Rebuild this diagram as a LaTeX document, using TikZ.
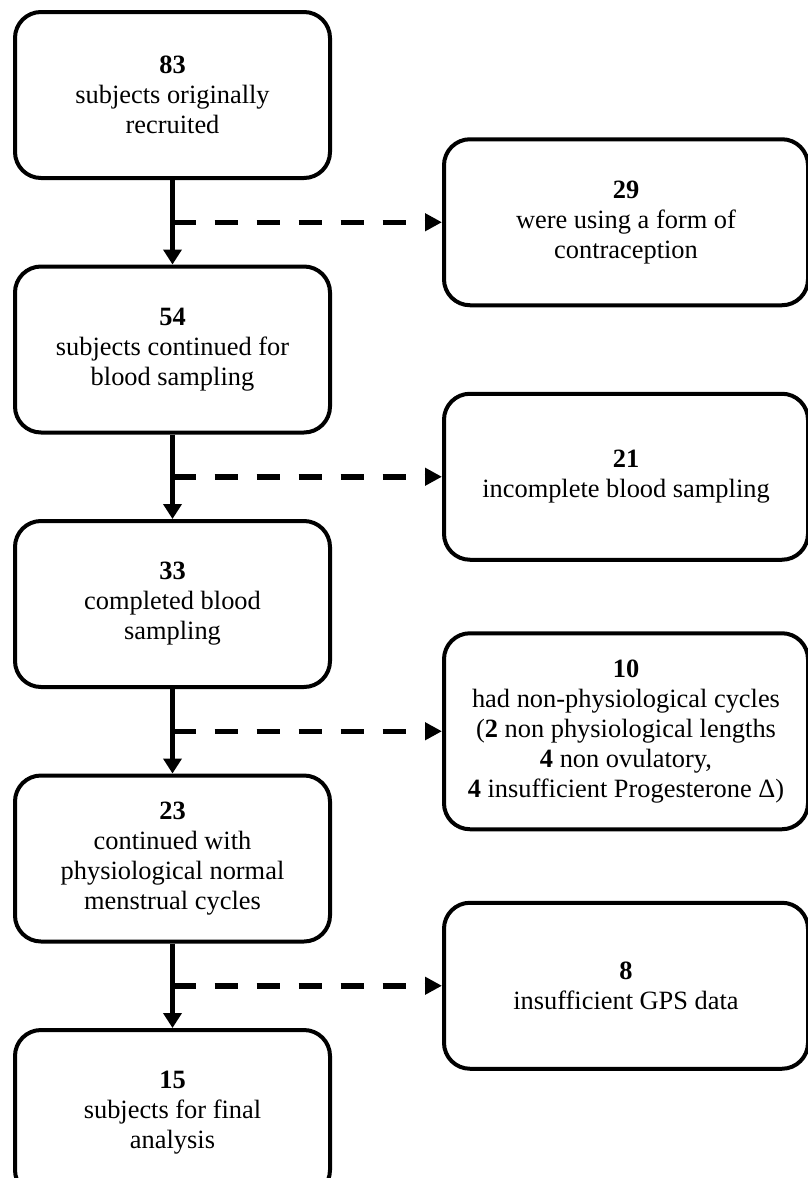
\documentclass[tikz,border=0pt]{standalone}
\usepackage{fontspec}
\setmainfont{Liberation Serif}
\usetikzlibrary{positioning, arrows.meta}

\begin{document}
\begin{tikzpicture}[
                x=1pt, y=1pt,
                node distance=84.5pt,
                every node/.style={
                        align=center,
                        font=\fontsize{26.4}{30}\selectfont
                    },
                box/.style={
                        draw,
                        line width=4pt,
                        rounded corners=26pt,
                        minimum width=315pt,
                        minimum height=166pt,
                        inner sep=0pt
                    },
                sidebox/.style={
                        box,
                        minimum width=364pt
                    },
                flow/.style={line width=5.5pt, -{Triangle[length=15pt, width=18pt]}},
                drop/.style={line width=5.5pt, dash pattern=on 23pt off 19pt, -{Triangle[length=17pt, width=17pt]}}
            ]

            \useasboundingbox (0,0) rectangle (808,-1178);

            \node[box] (recruited) at (172.5,-95) {\textbf{83}\\ subjects originally\\ recruited};
            \node[box] (blood) [below=of recruited] {\textbf{54}\\ subjects continued for\\ blood sampling};
            \node[box] (completed) [below=of blood] {\textbf{33}\\ completed blood\\ sampling};
            \node[box] (normal) [below=of completed] {\textbf{23}\\ continued with\\ physiological normal\\ menstrual cycles};
            \node[box] (final) [below=of normal] {\textbf{15}\\ subjects for final\\ analysis};

            \path (recruited.south) -- (blood.north) coordinate[pos=0.5] (s1);
            \path (blood.south) -- (completed.north) coordinate[pos=0.5] (s2);
            \path (completed.south) -- (normal.north) coordinate[pos=0.5] (s3);
            \path (normal.south) -- (final.north) coordinate[pos=0.5] (s4);

            \node[sidebox] (contra) [right=269.5pt of s1] {\textbf{29}\\ were using a form of\\ contraception};
            \node[sidebox] (incomplete) [right=269.5pt of s2] {\textbf{21}\\ incomplete blood sampling};
            \node[sidebox, minimum height=196pt] (cycles) [right=269.5pt of s3] {\textbf{10}\\ had non-physiological cycles\\ (\textbf{2} non physiological lengths\\ \textbf{4} non ovulatory,\\ \textbf{4} insufficient Progesterone Δ)};
            \node[sidebox] (gps) [right=269.5pt of s4] {\textbf{8}\\ insufficient GPS data};

            \draw[flow] (recruited) -- (blood);
            \draw[flow] (blood) -- (completed);
            \draw[flow] (completed) -- (normal);
            \draw[flow] (normal) -- (final);

            \draw[drop] (s1) -- (contra);
            \draw[drop] (s2) -- (incomplete);
            \draw[drop] (s3) -- (cycles);
            \draw[drop] (s4) -- (gps);

        \end{tikzpicture}
\end{document}
